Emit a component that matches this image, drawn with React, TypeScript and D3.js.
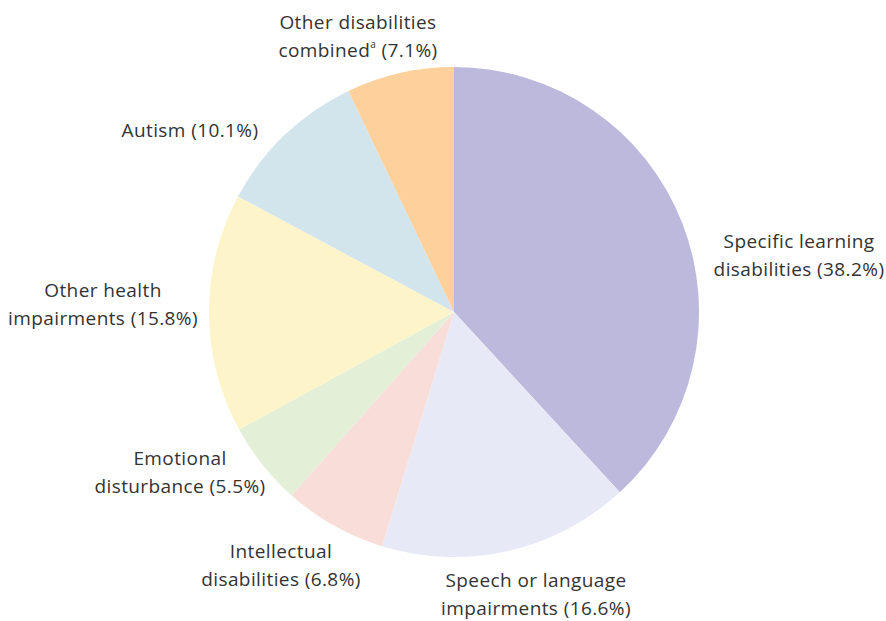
import React from "react";
import * as d3 from "d3";

const categories = [
  "Specific learning disabilities",
  "Speech or language impairments",
  "Intellectual disabilities",
  "Emotional disturbance",
  "Other health impairments",
  "Autism",
  "Other disabilities combined",
];
const values = [38.2, 16.6, 6.8, 5.5, 15.8, 10.1, 7.1];
const labelLines: string[][] = [
  ["Specific learning", "disabilities (38.2%)"],
  ["Speech or language", "impairments (16.6%)"],
  ["Intellectual", "disabilities (6.8%)"],
  ["Emotional", "disturbance (5.5%)"],
  ["Other health", "impairments (15.8%)"],
  ["Autism (10.1%)"],
  ["Other disabilities", "combined\u1d43 (7.1%)"],
];
const colors = ["#bdb9dc", "#e7eaf6", "#f8ddd8", "#e4efd8", "#fdf4c9", "#d3e5ec", "#fdd09c"];

// label layout (center x, middle y of first line), in page coords
const labelPos: [number, number][] = [
  [799, 241],
  [536, 580],
  [281, 551],
  [180, 458],
  [103, 290],
  [190, 130],
  [358, 22],
];

const W = 886;
const H = 621;
const CX = 454;
const CY = 312;
const R = 245;

export default function App() {
  const pie = d3.pie<number>().sort(null).value((d) => d)(values);
  const arc = d3.arc<d3.PieArcDatum<number>>().innerRadius(0).outerRadius(R);
  return (
    <svg
      width={W}
      height={H}
      style={{ position: "absolute", left: 0, top: 0, background: "#fff" }}
      fontFamily="'Open Sans', sans-serif"
    >
      <g transform={`translate(${CX},${CY})`}>
        {pie.map((p, i) => (
          <path key={categories[i]} d={arc(p) || ""} fill={colors[i]} />
        ))}
      </g>
      {labelLines.map((lines, i) => (
        <text
          key={categories[i]}
          x={labelPos[i][0]}
          y={labelPos[i][1]}
          textAnchor="middle"
          fontSize={19}
          letterSpacing={0.4}
          fill="#333"
          dominantBaseline="central"
        >
          {lines.map((l, j) => {
            if (l.includes("\u1d43")) {
              const [a, b] = l.split("\u1d43");
              return (
                <tspan key={j} x={labelPos[i][0]} dy={j === 0 ? 0 : 28}>
                  {a}
                  <tspan fontSize={10} dy={-6}>a</tspan>
                  <tspan dy={6}>{b}</tspan>
                </tspan>
              );
            }
            return (
              <tspan key={j} x={labelPos[i][0]} dy={j === 0 ? 0 : 28}>
                {l}
              </tspan>
            );
          })}
        </text>
      ))}
    </svg>
  );
}
